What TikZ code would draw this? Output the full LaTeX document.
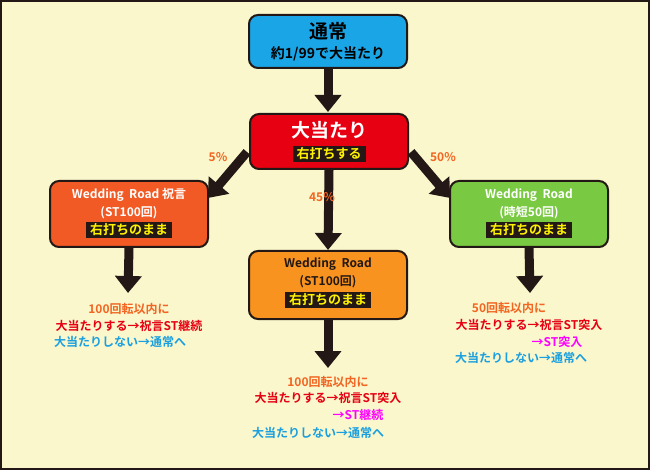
\documentclass[tikz,border=0pt]{standalone}
\usepackage{fontspec}
\setmainfont{Noto Sans CJK JP}[BoldFont={* Bold}]
\usetikzlibrary{arrows.meta}
\definecolor{bg}{HTML}{FAF7CC}
\definecolor{cblue}{HTML}{1AA5E6}
\definecolor{cred}{HTML}{E60012}
\definecolor{corg}{HTML}{F15A24}
\definecolor{corg2}{HTML}{F7931E}
\definecolor{cgreen}{HTML}{7AC943}
\definecolor{pct}{HTML}{F26522}
\definecolor{tred}{HTML}{E60012}
\definecolor{tblue}{HTML}{1A9FE0}
\definecolor{tmag}{HTML}{FF00FF}
\definecolor{band}{HTML}{231815}
\begin{document}
\begin{tikzpicture}[x=1pt,y=-1pt,font=\bfseries,
  box/.style={draw=band,line width=2pt,rounded corners=9pt,minimum width=158pt,align=center,inner sep=0pt,anchor=north},
  bar/.style={fill=band,text=yellow,font=\bfseries\fontsize{13}{14}\selectfont,inner xsep=4pt,inner ysep=1.5pt},
  big/.style={-{Triangle[width=26pt,length=17pt]},line width=9pt,draw=band},
  pc/.style={text=pct,font=\bfseries\fontsize{12}{13}\selectfont},
  res/.style={font=\bfseries\fontsize{12}{14}\selectfont,inner sep=0pt}]
\fill[bg] (0,0) rectangle (650,470);
\draw[band,line width=2pt] (1,1) rectangle (649,469);
% top
\node[box,fill=cblue,minimum height=53pt] (top) at (328,14) {};
\node[font=\bfseries\fontsize{19}{20}\selectfont] (t1) at (328,31) {通常};
\node[font=\bfseries\fontsize{14}{15}\selectfont] (t2) at (328,54) {約1/99で大当たり};
% red
\node[box,fill=cred,minimum height=55pt] (red) at (329,113) {};
\node[font=\bfseries\fontsize{19}{20}\selectfont,text=white] (r1) at (329,130) {大当たり};
\node[bar] (r2) at (329,154) {右打ちする};
% left
\node[box,fill=corg,minimum height=66pt] (L) at (129,180) {};
\node[text=white,font=\bfseries\fontsize{12}{18}\selectfont,align=center] (l1) at (129,204) {Wedding\ \ Road\ 祝言\\(ST100回)};
\node[bar] (l2) at (129,230) {右打ちのまま};
% middle
\node[box,fill=corg2,minimum height=68pt] (M) at (328,250) {};
\node[text=band,font=\bfseries\fontsize{12}{18}\selectfont,align=center] (m1) at (328,273) {Wedding\ \ Road\\(ST100回)};
\node[bar] (m2) at (328,300) {右打ちのまま};
% right
\node[box,fill=cgreen,minimum height=66pt] (R) at (529,180) {};
\node[text=white,font=\bfseries\fontsize{12}{18}\selectfont,align=center] (rr1) at (529,204) {Wedding\ \ Road\\(時短50回)};
\node[bar] (rr2) at (529,230) {右打ちのまま};
% arrows
\coordinate (a0) at (328,67); \coordinate (a1) at (328,112);
\draw[big] (top.south) -- (a1);
\coordinate (lb) at (247,152); \coordinate (le) at (208,198);
\draw[big] (lb) -- (le);
\coordinate (rb) at (411,152); \coordinate (re) at (450,198);
\draw[big] (rb) -- (re);
\coordinate (me) at (328,250);
\draw[big] (red.south) -- (me);
\coordinate (ld) at (128,293); \draw[big] (L.south) -- (ld);
\coordinate (md) at (328,368); \draw[big] (M.south) -- (md);
\coordinate (rd) at (530,293); \draw[big] (R.south) -- (rd);
\node[pc] (p5) at (218,157) {5\%};
\node[pc] (p45) at (322,197) {45\%};
\node[pc] (p50) at (443,157) {50\%};
% results left
\node[res,text=pct] (x1) at (129,309) {100回転以内に};
\node[res,text=tred] (x2) at (129,326) {大当たりする→祝言ST継続};
\node[res,text=tblue] (x3) at (120,342) {大当たりしない→通常へ};
% middle
\node[res,text=pct] (y1) at (328,382) {100回転以内に};
\node[res,text=tred] (y2) at (328,398) {大当たりする→祝言ST突入};
\node[res,text=tmag] (y3) at (358,415) {→ST継続};
\node[res,text=tblue] (y4) at (318,433) {大当たりしない→通常へ};
% right
\node[res,text=pct] (z1) at (509,308) {50回転以内に};
\node[res,text=tred] (z2) at (529,325) {大当たりする→祝言ST突入};
\node[res,text=tmag] (z3) at (557,342) {→ST突入};
\node[res,text=tblue] (z4) at (521,358) {大当たりしない→通常へ};
\end{tikzpicture}
\end{document}
